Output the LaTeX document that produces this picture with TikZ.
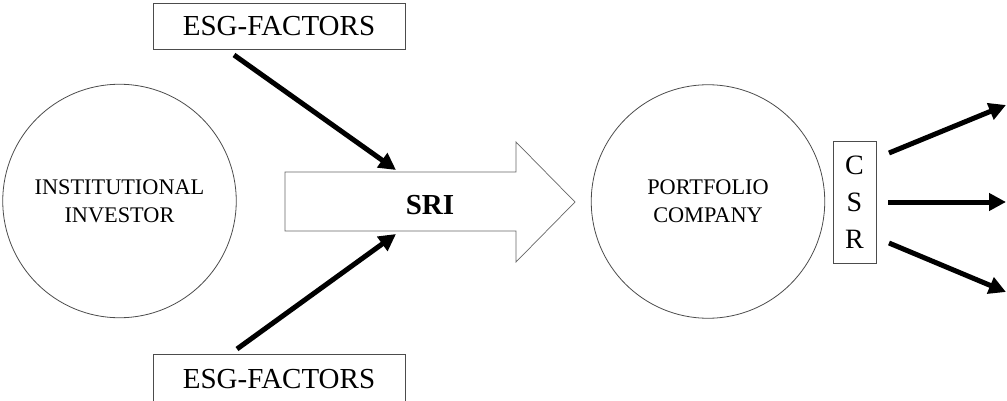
\documentclass[tikz,border=0pt]{standalone}
\usepackage{fontspec}
\setmainfont{Liberation Serif}
\usetikzlibrary{arrows.meta}
\begin{document}
\begin{tikzpicture}[x=1pt,y=-1pt,
  thinline/.style={draw=black!70, line width=0.8pt},
  factorbox/.style={thinline, minimum width=252pt, minimum height=46pt, inner sep=0pt,
    font=\fontsize{29}{29}\selectfont},
  party/.style={circle, thinline, minimum size=233.5pt, inner sep=0pt, align=center,
    font=\fontsize{22.3}{28}\selectfont},
  push/.style={line width=5pt, -{Triangle[length=17pt,width=17pt]}}
]
\useasboundingbox (0,0) rectangle (1007,401);

% factor boxes
\node[factorbox] (esgtop) at (279,26) {ESG-FACTORS};
\node[factorbox, minimum height=50pt] (esgbot) at (279,379) {ESG-FACTORS};

% actors
\node[party] (investor) at (119.5,201) {INSTITUTIONAL\\INVESTOR};
\node[party] (company) at (708,201.5) {PORTFOLIO\\COMPANY};

% SRI block arrow
\draw[draw=black!60, line width=0.7pt, fill=white]
  (285,172) -- (516,172) -- (516,142) -- (575,202) -- (516,262) -- (516,231)
  -- (285,231) -- cycle;
\node[font=\bfseries\fontsize{29}{29}\selectfont] (sri) at (430,205) {SRI};
\coordinate (shafttop) at (396,170);
\coordinate (shaftbot) at (396,234);

% CSR box
\node[thinline, minimum width=43pt, minimum height=122pt, inner sep=0pt, align=center,
  font=\fontsize{28}{37}\selectfont] (csr) at (854.5,202) {C\\S\\R};

% influences
\coordinate (topstart) at (234,55);
\coordinate (botstart) at (237,349);
\draw[push] (topstart) -- (shafttop);
\draw[push] (botstart) -- (shaftbot);

% outcomes
\coordinate (o1s) at (889,153);
\coordinate (o1e) at (1006,105);
\coordinate (o2s) at (888,202);
\coordinate (o2e) at (1006,202);
\coordinate (o3s) at (889,243);
\coordinate (o3e) at (1006,292);
\draw[push] (o1s) -- (o1e);
\draw[push] (o2s) -- (o2e);
\draw[push] (o3s) -- (o3e);
\end{tikzpicture}
\end{document}
